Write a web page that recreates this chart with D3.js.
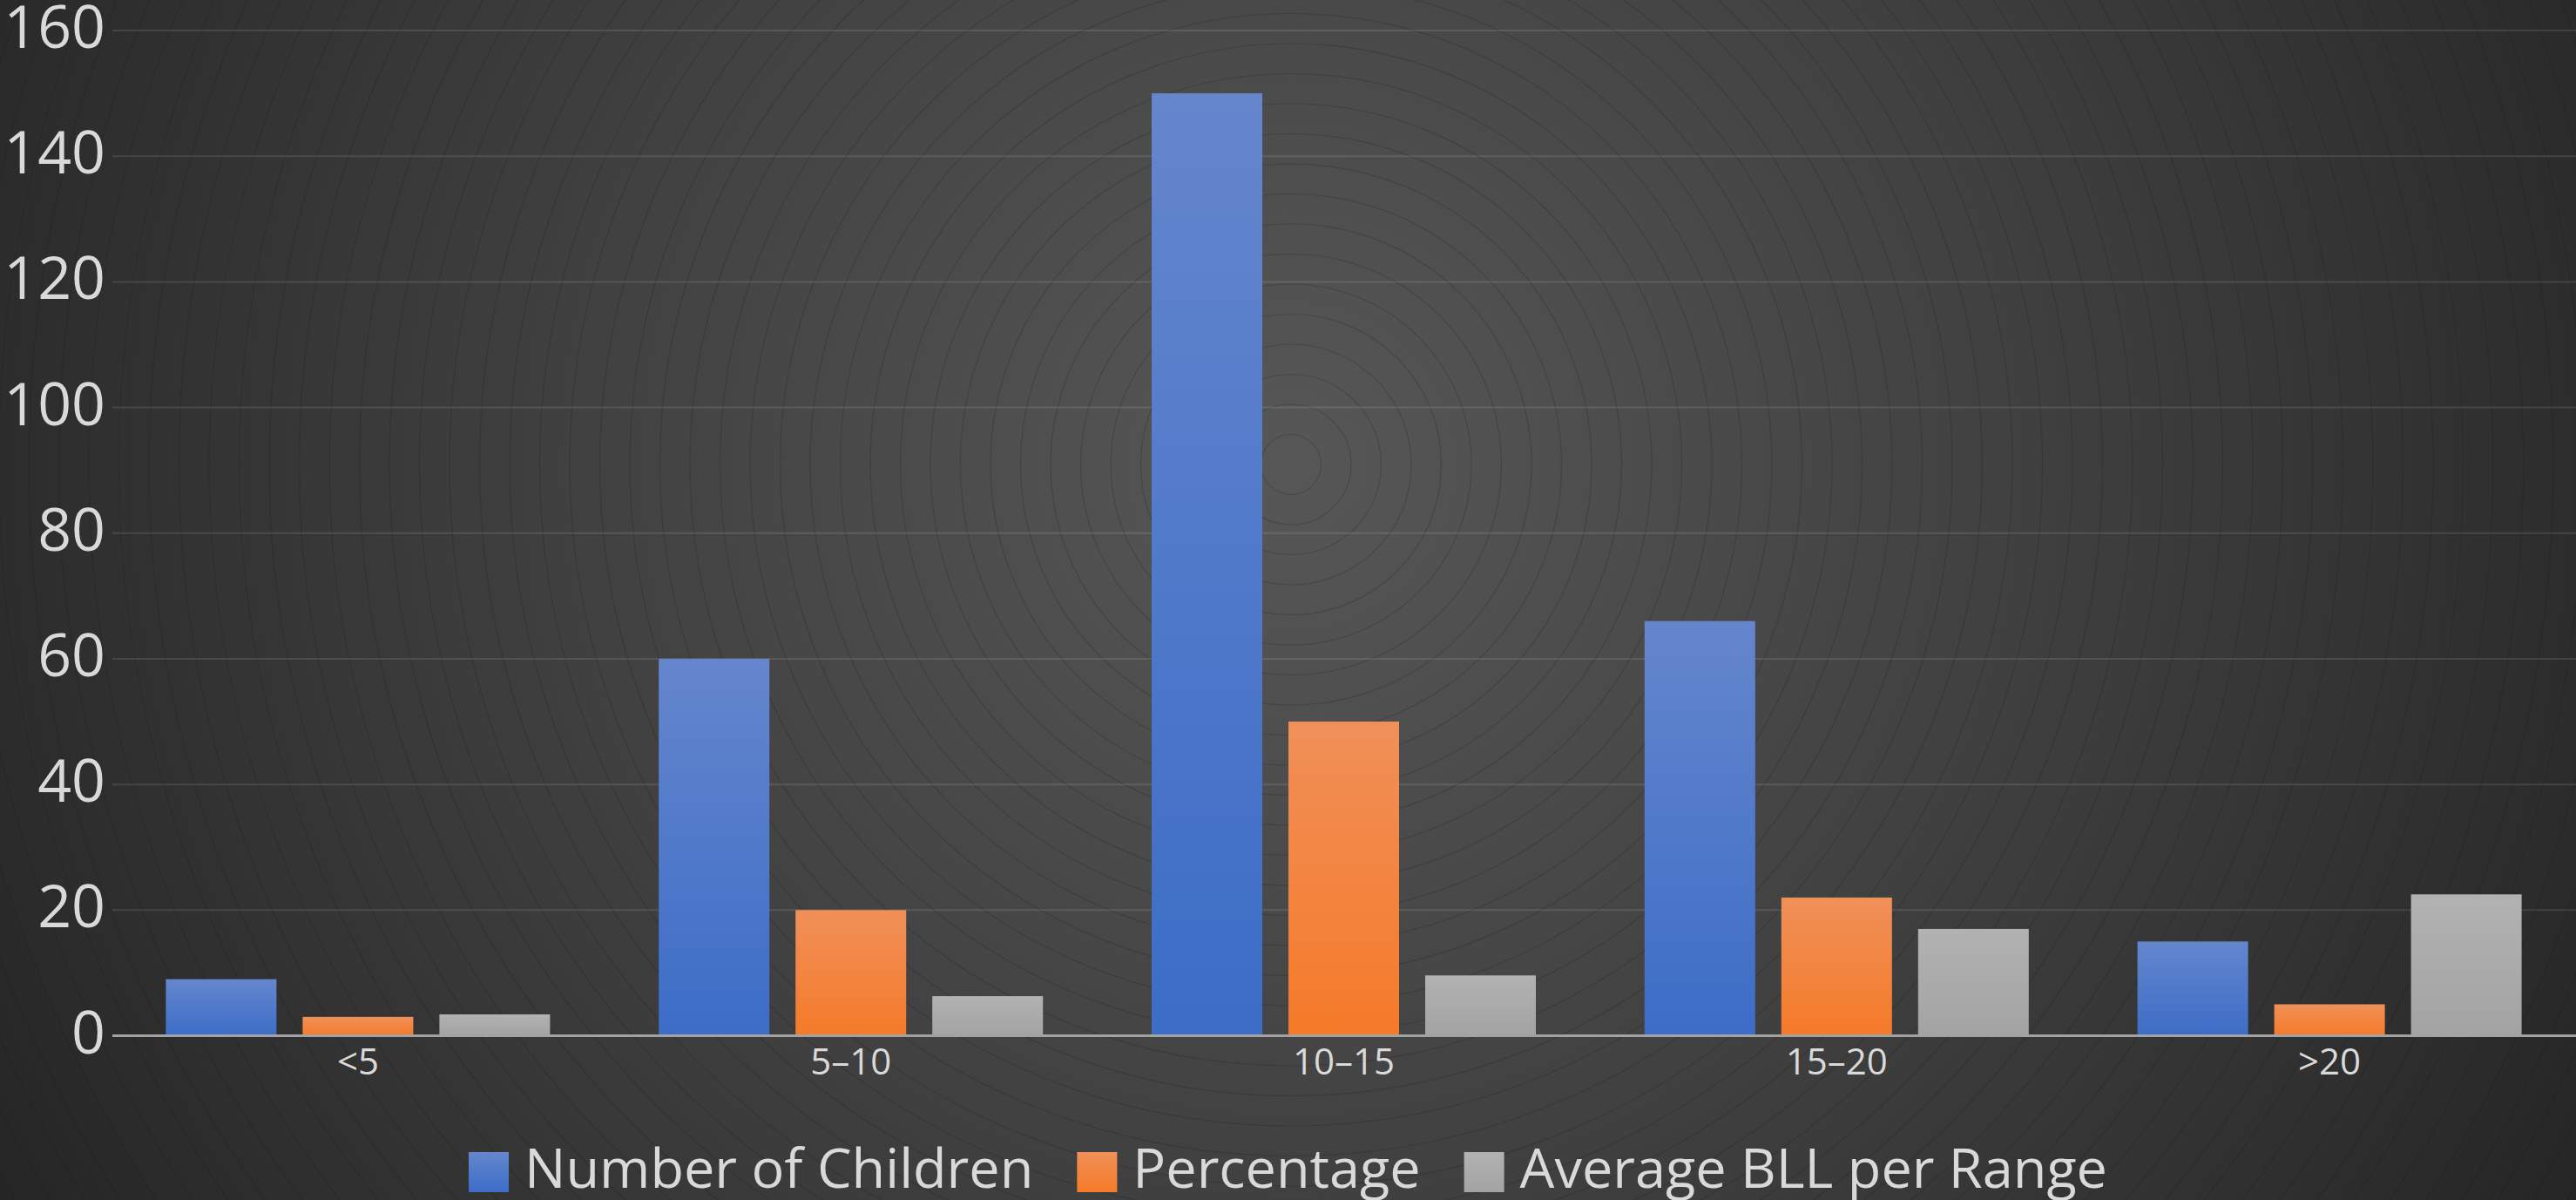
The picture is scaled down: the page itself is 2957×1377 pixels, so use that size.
<!DOCTYPE html>
<html>
<head>
<meta charset="utf-8">
<script src="https://cdn.jsdelivr.net/npm/d3@7"></script>
<style>
  html, body { margin: 0; padding: 0; background: #2a2a2a; overflow: hidden; }
  svg { display: block; }
  text { font-family: "Open Sans", "Noto Sans", sans-serif; fill: #d9d9d9; }
</style>
</head>
<body>
<svg id="chart"></svg>
<script>
// Blood lead level ranges (µg/dL) and the three measures per range
const categories = ["<5", "5–10", "10–15", "15–20", ">20"];
const numberOfChildren = [9, 60, 150, 66, 15];
const percentage = [3, 20, 50, 22, 5];
const averageBLL = [3.4, 6.3, 9.6, 17, 22.5];
const seriesNames = ["Number of Children", "Percentage", "Average BLL per Range"];
const yTicks = [0, 20, 40, 60, 80, 100, 120, 140, 160];

const W = 2957, H = 1377;
const plot = { left: 128, right: W, top: 35, bottom: 1188.5 };

const svg = d3.select("#chart").attr("width", W).attr("height", H);
const defs = svg.append("defs");

// Dark radial backdrop
const bgCx = 1482, bgCy = 533;
const bg = defs.append("radialGradient").attr("id", "bg")
  .attr("gradientUnits", "userSpaceOnUse")
  .attr("cx", bgCx).attr("cy", bgCy).attr("r", 1720);
bg.append("stop").attr("offset", "0").attr("stop-color", "#575757");
bg.append("stop").attr("offset", "0.45").attr("stop-color", "#424242");
bg.append("stop").attr("offset", "1").attr("stop-color", "#252525");
svg.append("rect").attr("width", W).attr("height", H).attr("fill", "url(#bg)");

// Faint concentric rings of the backdrop
const ringStep = 34.5;
svg.append("g").selectAll("circle")
  .data(d3.range(1, 52))
  .join("circle")
  .attr("cx", bgCx).attr("cy", bgCy)
  .attr("r", k => k * ringStep)
  .attr("fill", "none")
  .attr("stroke", "rgba(28,28,36,0.22)")
  .attr("stroke-width", 1.2);

// Per-series vertical bar gradients
const palette = [
  { top: "#6586cd", bottom: "#3c6dc7" },
  { top: "#f09059", bottom: "#f57a29" },
  { top: "#b2b2b2", bottom: "#a3a3a3" }
];
palette.forEach((c, i) => {
  const g = defs.append("linearGradient").attr("id", "bar" + i)
    .attr("x1", 0).attr("y1", 0).attr("x2", 0).attr("y2", 1);
  g.append("stop").attr("offset", "0").attr("stop-color", c.top);
  g.append("stop").attr("offset", "1").attr("stop-color", c.bottom);
});

// Scales
const y = d3.scaleLinear().domain([0, 160]).range([plot.bottom, plot.top]);
const x0 = d3.scaleBand().domain(categories).range([plot.left, plot.right]).padding(0);
const outerPad = 62.4;
const x1 = d3.scaleBand().domain(d3.range(3))
  .range([outerPad, x0.bandwidth() - outerPad])
  .paddingInner(30 / 157).paddingOuter(0);

// Y tick labels and gridlines (gridlines begin just right of the labels)
const yAxis = svg.append("g");
const ticks = yAxis.selectAll("g").data(yTicks).join("g");
ticks.append("text")
  .attr("x", 121)
  .attr("y", d => y(d) + 20)
  .attr("text-anchor", "end")
  .attr("font-size", 68)
  .text(d => d);
ticks.filter(d => d !== 0).append("line")
  .attr("x1", 129).attr("x2", W)
  .attr("y1", d => y(d)).attr("y2", d => y(d))
  .attr("stroke", "rgba(255,255,255,0.11)")
  .attr("stroke-width", 2);

// Bars
const rows = categories.map((c, i) => ({
  cat: c,
  vals: [numberOfChildren[i], percentage[i], averageBLL[i]]
}));
const groups = svg.append("g").selectAll("g").data(rows).join("g")
  .attr("transform", d => `translate(${x0(d.cat)},0)`);
groups.selectAll("rect")
  .data(d => d.vals.map((v, s) => ({ v, s })))
  .join("rect")
  .attr("x", d => x1(d.s))
  .attr("width", x1.bandwidth())
  .attr("y", d => y(d.v))
  .attr("height", d => y(0) - y(d.v))
  .attr("fill", d => `url(#bar${d.s})`);

// Category axis
svg.append("line")
  .attr("x1", 129).attr("x2", W)
  .attr("y1", y(0)).attr("y2", y(0))
  .attr("stroke", "#a2a2a2").attr("stroke-width", 3);
svg.append("g").selectAll("text").data(categories).join("text")
  .attr("x", d => x0(d) + x0.bandwidth() / 2)
  .attr("y", 1233)
  .attr("text-anchor", "middle")
  .attr("font-size", 42)
  .text(d => d);

// Legend
const legend = svg.append("g");
const sw = 46, swGap = 18, itemGap = 50, legendFont = 63;
const items = legend.selectAll("g").data(seriesNames).join("g");
items.append("rect")
  .attr("width", sw).attr("height", sw)
  .attr("y", 1322)
  .attr("fill", (d, i) => `url(#bar${i})`);
items.append("text")
  .attr("x", sw + swGap)
  .attr("y", 1363)
  .attr("font-size", legendFont)
  .text(d => d);
const widths = [];
items.each(function () {
  widths.push(d3.select(this).select("text").node().getComputedTextLength());
});
const total = d3.sum(widths) + seriesNames.length * (sw + swGap) + (seriesNames.length - 1) * itemGap;
let cursor = W / 2 - total / 2;
items.attr("transform", (d, i) => {
  const t = `translate(${cursor},0)`;
  cursor += sw + swGap + widths[i] + itemGap;
  return t;
});
</script>
</body>
</html>
